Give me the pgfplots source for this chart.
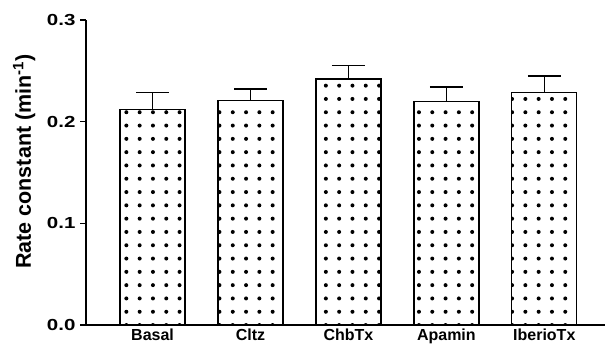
\documentclass[border=0pt]{standalone}
\usepackage{fontspec}
\setmainfont{Liberation Sans}
\newfontfamily\widefont[FakeStretch=1.28]{Liberation Sans}
\usepackage{pgfplots}
\pgfplotsset{compat=1.18}
\usetikzlibrary{patterns}
\pgfdeclarepatternformonly{bigdots}{\pgfqpoint{-1pt}{-1pt}}{\pgfqpoint{14.3pt}{14.3pt}}{\pgfqpoint{13.3pt}{13.3pt}}{%
  \pgfpathcircle{\pgfqpoint{6.65pt}{6.65pt}}{2pt}\pgfusepath{fill}}
\begin{document}
\begin{tikzpicture}
\begin{axis}[
  scale only axis,
  width=519pt, height=305pt,
  xmin=-0.68, xmax=4.62,
  ymin=0, ymax=0.3,
  axis x line*=bottom, axis y line*=left,
  axis line style={line width=1.3pt},
  xtick=data,
  xticklabels={Basal,Cltz,ChbTx,Apamin,IberioTx},
  x tick style={draw=none},
  ytick={0,0.1,0.2,0.3},
  y tick style={line width=1.3pt, black},
  major tick length=6pt,
  tick align=outside,
  /pgf/number format/assume math mode=true,
  yticklabel={\pgfmathprintnumber[fixed,fixed zerofill,precision=1]{\tick}},
  yticklabel style={font=\widefont\fontsize{16}{19}\selectfont\bfseries, xshift=-1pt},
  xticklabel style={font=\fontsize{16}{18}\selectfont\bfseries, inner sep=0pt, anchor=north, yshift=2pt},
  ylabel={Rate constant (min\textsuperscript{-1})},
  ylabel style={font=\fontsize{21.5}{24}\selectfont\bfseries, at={(axis description cs:-0.119,0.536)}, anchor=center},
  ybar, bar width=65pt,
  clip=false,
]
\addplot[draw=black, line width=1.3pt, pattern=bigdots, pattern color=black,
  error bars/.cd, y dir=plus, y explicit,
  error bar style={line width=1.3pt, black},
  error mark options={rotate=90, mark size=16.5pt, line width=1.3pt, black}]
  coordinates {
  (0,0.212) +- (0,0.017)
  (1,0.221) +- (0,0.011)
  (2,0.242) +- (0,0.013)
  (3,0.220) +- (0,0.014)
  (4,0.229) +- (0,0.016)
  };
\end{axis}
\pgfresetboundingbox
\path[use as bounding box] ([shift={(-86pt,-20pt)}]current axis.south west) rectangle ([shift={(0pt,20pt)}]current axis.north east);
\end{tikzpicture}
\end{document}
